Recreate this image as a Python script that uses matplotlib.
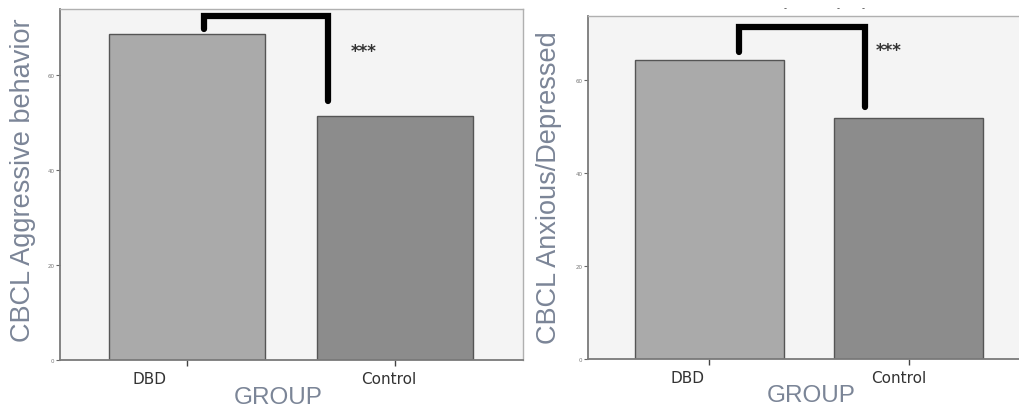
import matplotlib
matplotlib.use("Agg")
import matplotlib.pyplot as plt

# ---- data ----
groups = ["DBD", "Control"]
aggressive = [68.6, 51.4]
anxious = [64.3, 51.8]
ylabels = ["CBCL Aggressive behavior", "CBCL Anxious/Depressed"]
yticks = [0, 20, 40, 60]
signif = "***"

# bracket annotation (data coords): x-left, x-right, left-leg bottom, top, right-leg bottom
brackets = [
    (0.08, 0.68, 69.7, 72.4, 54.5),
    (0.15, 0.78, 66.0, 71.4, 54.2),
]
star_pos = [(0.85, 65.0), (0.90, 66.5)]
label_x = [[-0.18, 0.97], [-0.11, 0.95]]
ylims = [73.9, 73.8]

W, H = 1020, 410
fig = plt.figure(figsize=(W / 100, H / 100), dpi=100)
fig.patch.set_facecolor("white")

axes_px = [(60, 10, 523, 361), (588, 17, 1031, 360)]
series = [aggressive, anxious]
label_col = "#7b8597"
bar_cols = ["#aaaaaa", "#8c8c8c"]

for i, (x0, y0, x1, y1) in enumerate(axes_px):
    ax = fig.add_axes([x0 / W, 1 - y1 / H, (x1 - x0) / W, (y1 - y0) / H])
    ax.set_facecolor("#f4f4f4")
    ax.bar([0, 1], series[i], width=0.75, color=bar_cols, edgecolor="#555555",
           linewidth=1.0, zorder=2)
    ax.set_xlim(-0.61, 1.615)
    ax.set_ylim(0, ylims[i])
    ax.set_yticks(yticks)
    ax.set_yticklabels([str(t) for t in yticks], fontsize=4, color="#777777")
    ax.tick_params(axis="y", length=3, width=0.8, color="#666666", pad=1)
    # tick marks at bar centres, labels offset like the reference
    ax.set_xticks([0, 1], minor=True)
    ax.tick_params(axis="x", which="minor", length=4, width=1, color="#444444")
    ax.set_xticks(label_x[i])
    ax.set_xticklabels(groups, fontsize=11, color="#333333")
    ax.tick_params(axis="x", which="major", length=0, pad=8)
    for s in ["left", "bottom"]:
        ax.spines[s].set_color("#7a7a7a")
        ax.spines[s].set_linewidth(1.3)
    for s in ["top", "right"]:
        ax.spines[s].set_color("#b0b0b0")
        ax.spines[s].set_linewidth(1.0)
    bx0, bx1, lb, top, rb = brackets[i]
    ax.plot([bx0, bx0, bx1, bx1], [lb, top, top, rb], color="black", lw=4.5,
            solid_capstyle="round", solid_joinstyle="miter", zorder=3, clip_on=False)
    ax.text(star_pos[i][0], star_pos[i][1], signif, fontsize=12, color="#333333",
            ha="center", va="center", fontweight="bold")

# axis titles
fig.text(23 / W, 1 - 180 / H, ylabels[0], rotation=90, ha="center", va="center",
         fontsize=19.5, color=label_col, family="Liberation Sans")
fig.text(549 / W, 1 - 188 / H, ylabels[1], rotation=90, ha="center", va="center",
         fontsize=19.5, color=label_col, family="Liberation Sans")
fig.text(278 / W, 1 - 398 / H, "GROUP", ha="center", va="center",
         fontsize=17.5, color=label_col, family="Liberation Sans")
fig.text(811 / W, 1 - 396 / H, "GROUP", ha="center", va="center",
         fontsize=17.5, color=label_col, family="Liberation Sans")

# cropped remnants of a title above right panel
for xp in (785, 838, 863):
    fig.text(xp / W, 1 - 9 / H, "-", ha="center", va="center", fontsize=6, color="#444444")

fig.savefig("out.png", dpi=100)
